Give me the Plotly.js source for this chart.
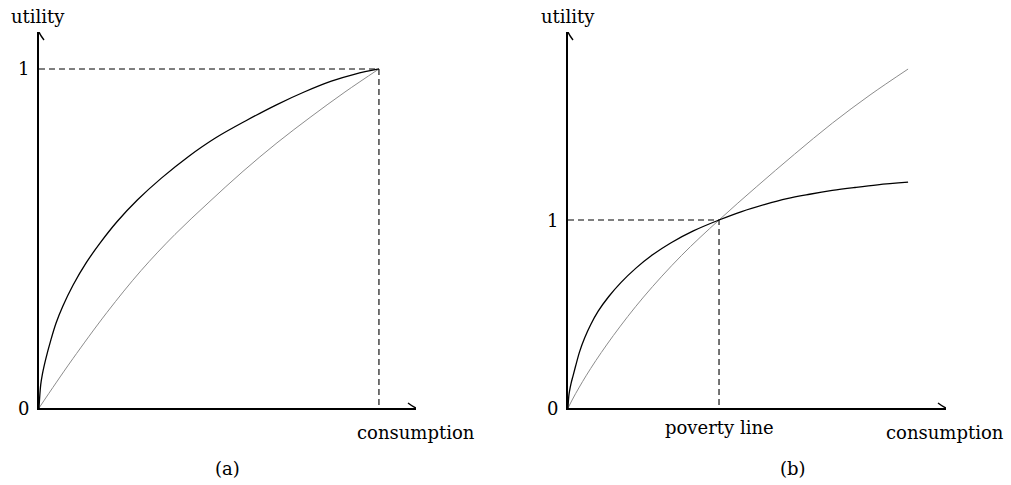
<!DOCTYPE html>
<html>
<head>
<meta charset="utf-8">
<script src="https://cdn.plot.ly/plotly-3.0.1.min.js"></script>
<style>html,body{margin:0;padding:0;background:#fff;}#chart{width:1011px;height:485px;}</style>
</head>
<body>
<div id="chart"></div>
<script>
// ---- Panel (a): utility on [0,1] ----
const aBlackX = [0, 0.005, 0.01, 0.02, 0.035, 0.05, 0.07, 0.10, 0.14, 0.18, 0.23, 0.29, 0.36, 0.44, 0.52, 0.61, 0.70, 0.78, 0.86, 0.93, 1.0];
const aBlackY = [0, 0.068, 0.100, 0.145, 0.201, 0.250, 0.300, 0.362, 0.430, 0.487, 0.550, 0.614, 0.678, 0.742, 0.797, 0.848, 0.895, 0.932, 0.964, 0.985, 1.0];
const aGrayX  = [0, 0.05, 0.10, 0.20, 0.30, 0.40, 0.50, 0.60, 0.70, 0.80, 0.90, 1.0];
const aGrayY  = [0, 0.074, 0.146, 0.282, 0.405, 0.512, 0.607, 0.698, 0.782, 0.859, 0.932, 1.0];
const aPoint  = [1, 1];           // (consumption, utility) of the dashed corner
const aTicks  = [0, 1];
const aTickText = ['0', '1'];

// ---- Panel (b): poverty line normalised to 1 ----
const bBlackX = [0, 0.005, 0.01, 0.02, 0.033, 0.05, 0.077, 0.11, 0.15, 0.20, 0.27, 0.35, 0.45, 0.56, 0.68, 0.83, 1.0, 1.15, 1.3, 1.45, 1.6, 1.75, 1.9, 2.05, 2.252];
const bBlackY = [0, 0.062, 0.090, 0.130, 0.170, 0.222, 0.300, 0.372, 0.443, 0.515, 0.593, 0.667, 0.744, 0.815, 0.878, 0.942, 1.0, 1.045, 1.082, 1.114, 1.137, 1.157, 1.173, 1.187, 1.201];
const bGrayX  = [0, 0.05, 0.15, 0.30, 0.50, 0.75, 1.0, 1.25, 1.50, 1.75, 2.0, 2.252];
const bGrayY  = [0, 0.076, 0.210, 0.385, 0.590, 0.810, 1.0, 1.178, 1.350, 1.515, 1.665, 1.803];
const povertyLine = 1;
const bTicks  = [0, 1];
const bTickText = ['0', '1'];

const labels = {utility: 'utility', consumption: 'consumption', poverty: 'poverty line', a: '(a)', b: '(b)'};

const FONT = '"DejaVu Serif", "Liberation Serif", serif';
const BLACK = '#000000';
const GRAY = '#8c8c8c';
const W = 1011, H = 485;
const px = x => x / W;
const py = y => 1 - y / H;

const dash = {color: BLACK, width: 1.1, dash: '6px,4px'};
const blackLine = {color: BLACK, width: 1.3, shape: 'spline', smoothing: 1};
const grayLine = {color: GRAY, width: 1, shape: 'spline', smoothing: 1};

const traces = [
  {x: aGrayX, y: aGrayY, xaxis: 'x', yaxis: 'y', mode: 'lines', line: grayLine},
  {x: aBlackX, y: aBlackY, xaxis: 'x', yaxis: 'y', mode: 'lines', line: blackLine},
  {x: [0, aPoint[0], aPoint[0]], y: [aPoint[1], aPoint[1], 0], xaxis: 'x', yaxis: 'y', mode: 'lines', line: dash},
  {x: bGrayX, y: bGrayY, xaxis: 'x2', yaxis: 'y2', mode: 'lines', line: grayLine},
  {x: bBlackX, y: bBlackY, xaxis: 'x2', yaxis: 'y2', mode: 'lines', line: blackLine},
  {x: [0, povertyLine, povertyLine], y: [1, 1, 0], xaxis: 'x2', yaxis: 'y2', mode: 'lines', line: dash}
];

const axisCommon = {showline: true, linecolor: BLACK, linewidth: 1.6, showgrid: false, zeroline: false,
  showticklabels: false, ticks: '', fixedrange: true};

const xRangeA = [0, 1.109], yRangeA = [0, 1.109];
const xRangeB = [0, 2.503], yRangeB = [0, 2.0];

const layout = {
  width: W, height: H,
  margin: {l: 0, r: 0, t: 0, b: 0},
  paper_bgcolor: '#fff', plot_bgcolor: 'rgba(0,0,0,0)',
  showlegend: false,
  font: {family: FONT, size: 18, color: BLACK},
  xaxis: Object.assign({}, axisCommon, {domain: [px(39), px(416)], range: xRangeA, anchor: 'y'}),
  yaxis: Object.assign({}, axisCommon, {domain: [py(408), py(32)], range: yRangeA, anchor: 'x'}),
  xaxis2: Object.assign({}, axisCommon, {domain: [px(568), px(946)], range: xRangeB, anchor: 'y2'}),
  yaxis2: Object.assign({}, axisCommon, {domain: [py(408), py(32)], range: yRangeB, anchor: 'x2'}),
  shapes: [
    {type: 'path', xref: 'x', yref: 'y', xsizemode: 'pixel', ysizemode: 'pixel', xanchor: xRangeA[1], yanchor: 0,
     path: 'M -8,5 Q -3,1.2 0,0 Q -3,-1.2 -8,-5', line: {color: BLACK, width: 1.4}},
    {type: 'path', xref: 'x', yref: 'y', xsizemode: 'pixel', ysizemode: 'pixel', xanchor: 0, yanchor: yRangeA[1],
     path: 'M -5,-8 Q -1.2,-3 0,0 Q 1.2,-3 5,-8', line: {color: BLACK, width: 1.4}},
    {type: 'path', xref: 'x2', yref: 'y2', xsizemode: 'pixel', ysizemode: 'pixel', xanchor: xRangeB[1], yanchor: 0,
     path: 'M -8,5 Q -3,1.2 0,0 Q -3,-1.2 -8,-5', line: {color: BLACK, width: 1.4}},
    {type: 'path', xref: 'x2', yref: 'y2', xsizemode: 'pixel', ysizemode: 'pixel', xanchor: 0, yanchor: yRangeB[1],
     path: 'M -5,-8 Q -1.2,-3 0,0 Q 1.2,-3 5,-8', line: {color: BLACK, width: 1.4}}
  ],
  annotations: [
    {xref: 'paper', yref: 'paper', x: px(38), y: py(17), text: labels.utility, showarrow: false, xanchor: 'center', yanchor: 'middle'},
    {xref: 'paper', yref: 'paper', x: px(568), y: py(17), text: labels.utility, showarrow: false, xanchor: 'center', yanchor: 'middle'},
    {xref: 'paper', yref: 'paper', x: px(416), y: py(432), text: labels.consumption, showarrow: false, xanchor: 'center', yanchor: 'middle'},
    {xref: 'paper', yref: 'paper', x: px(945), y: py(432), text: labels.consumption, showarrow: false, xanchor: 'center', yanchor: 'middle'},
    {xref: 'x2', yref: 'paper', x: povertyLine, y: py(427), text: labels.poverty, showarrow: false, xanchor: 'center', yanchor: 'middle'},
    {xref: 'paper', yref: 'paper', x: px(227), y: py(468), text: labels.a, showarrow: false, xanchor: 'center', yanchor: 'middle'},
    {xref: 'paper', yref: 'paper', x: px(793), y: py(468), text: labels.b, showarrow: false, xanchor: 'center', yanchor: 'middle'}
  ].concat(
    aTicks.map((v, i) => ({xref: 'paper', yref: 'y', x: px(23), y: v, text: aTickText[i], showarrow: false, xanchor: 'center', yanchor: 'middle'})),
    bTicks.map((v, i) => ({xref: 'paper', yref: 'y2', x: px(552), y: v, text: bTickText[i], showarrow: false, xanchor: 'center', yanchor: 'middle'}))
  )
};

Plotly.newPlot('chart', traces, layout, {staticPlot: true, displayModeBar: false});
</script>
</body>
</html>
